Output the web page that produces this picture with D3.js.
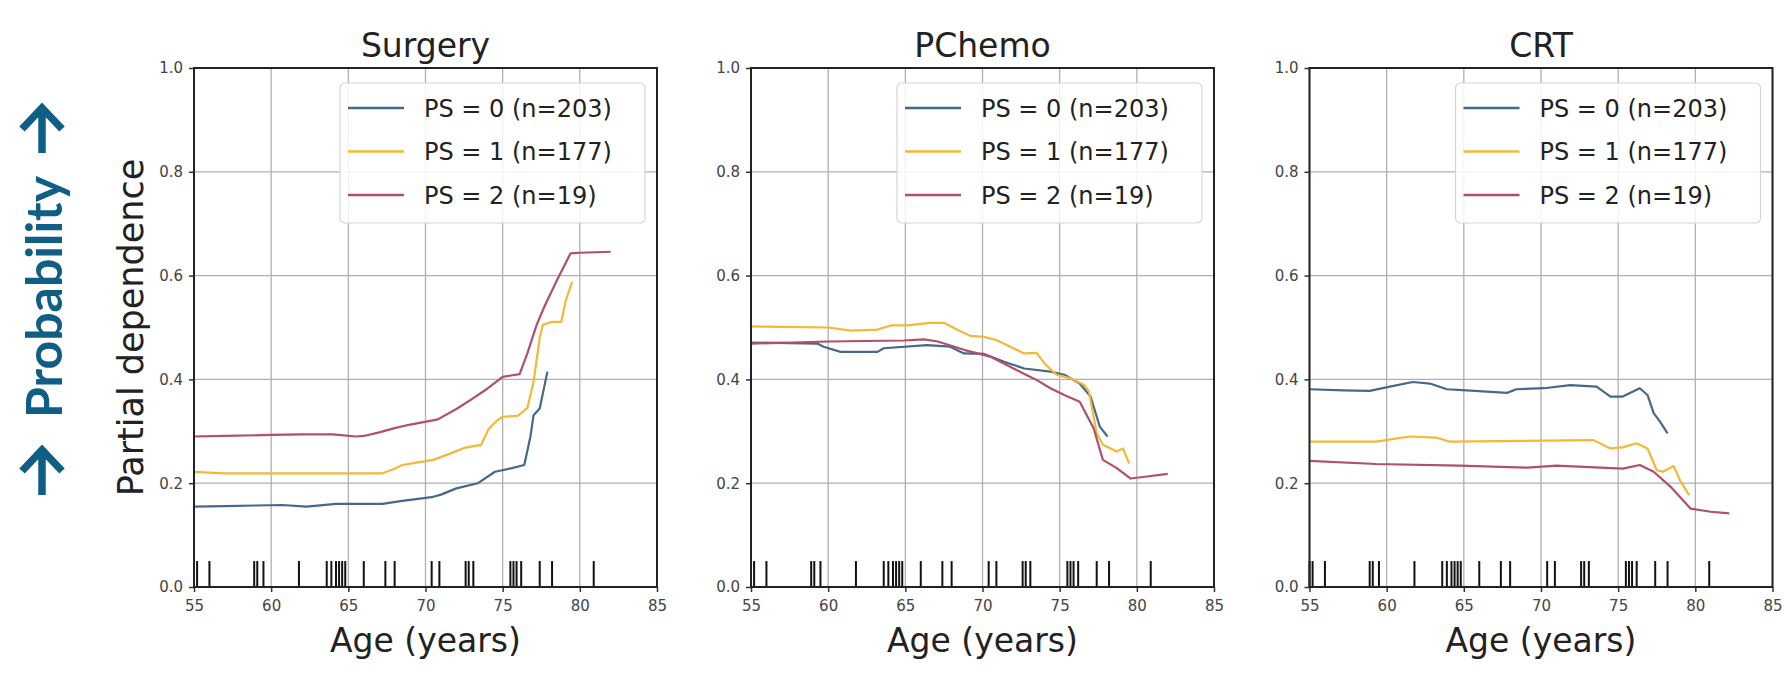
<!DOCTYPE html>
<html>
<head>
<meta charset="utf-8">
<script src="https://cdn.jsdelivr.net/npm/d3@7"></script>
<style>
  body { margin: 0; background: #fff; }
  svg { display: block; font-family: 'DejaVu Sans', sans-serif; }
</style>
</head>
<body>
<svg id="chart" width="1784" height="690"></svg>
<script>
const treatments = ['Surgery', 'PChemo', 'CRT'];
const groups = ['PS = 0 (n=203)', 'PS = 1 (n=177)', 'PS = 2 (n=19)'];
const ageTicks = [55, 60, 65, 70, 75, 80, 85];
const probTicks = [0, 0.2, 0.4, 0.6, 0.8, 1.0];

// ages of the individual patients (rug marks along the bottom)
const rugAges = [55.0, 55.2, 56.0, 58.9, 59.1, 59.5, 61.8, 63.6, 63.9, 64.2, 64.4, 64.6, 64.8,
    66.0, 67.4, 68.0, 70.4, 70.9, 72.6, 72.8, 73.1, 75.5, 75.7, 75.9, 76.2, 77.4, 78.2, 80.9];

// [age, partial dependence]
const surgeryPS0 = [[55, 0.155], [57, 0.156], [59, 0.157], [60.7, 0.158], [62.3, 0.155], [64.2, 0.160],
    [67.2, 0.160], [68.5, 0.166], [70.4, 0.173], [71.0, 0.178], [72, 0.190], [73.4, 0.200], [74.5, 0.222],
    [75.6, 0.229], [76.4, 0.235], [76.8, 0.290], [77.0, 0.331], [77.4, 0.344], [77.9, 0.415]];
const surgeryPS1 = [[55, 0.222], [57, 0.219], [60, 0.219], [63, 0.219], [65, 0.219], [67.2, 0.219],
    [68, 0.228], [68.5, 0.235], [69.5, 0.240], [70.5, 0.245], [71.5, 0.256], [72.5, 0.268], [73.6, 0.274],
    [74.1, 0.305], [74.6, 0.320], [75.0, 0.328], [76.0, 0.330], [76.6, 0.345], [77.0, 0.395], [77.4, 0.480],
    [77.6, 0.505], [78.2, 0.511], [78.8, 0.511], [79.1, 0.553], [79.5, 0.588]];
const surgeryPS2 = [[55, 0.290], [57, 0.291], [60, 0.293], [62, 0.294], [64, 0.294], [65.5, 0.290],
    [66, 0.291], [67, 0.298], [68, 0.306], [69, 0.313], [70.3, 0.320], [70.8, 0.323], [72, 0.343],
    [73, 0.362], [74, 0.382], [75, 0.405], [76.1, 0.410], [76.6, 0.450], [77.2, 0.505], [77.7, 0.540],
    [78.5, 0.590], [79.4, 0.643], [80, 0.644], [82, 0.646]];

const pchemoPS0 = [[55, 0.471], [59.3, 0.469], [59.7, 0.463], [60.8, 0.453], [63.2, 0.453], [63.6, 0.460],
    [66.4, 0.466], [67.9, 0.463], [68.8, 0.450], [70.1, 0.449], [71.4, 0.434], [72.7, 0.421], [74.4, 0.415],
    [75.3, 0.409], [76.3, 0.392], [77.0, 0.367], [77.6, 0.309], [78.1, 0.290]];
const pchemoPS1 = [[55, 0.502], [60, 0.500], [61.5, 0.494], [63.2, 0.496], [64.05, 0.504], [65.1, 0.504],
    [66.6, 0.509], [67.5, 0.509], [68.4, 0.495], [69.2, 0.484], [70.1, 0.482], [70.9, 0.476], [71.8, 0.463],
    [72.7, 0.450], [73.5, 0.451], [74.1, 0.428], [74.8, 0.409], [75.7, 0.402], [76.6, 0.389], [76.9, 0.376],
    [77.4, 0.296], [77.8, 0.274], [78.7, 0.261], [79.1, 0.267], [79.5, 0.238]];
const pchemoPS2 = [[55, 0.469], [60, 0.473], [64.9, 0.475], [66.2, 0.477], [67.1, 0.473], [68.8, 0.457],
    [70.5, 0.444], [72.2, 0.418], [73.5, 0.399], [74.4, 0.383], [75.3, 0.370], [76.3, 0.357], [77.2, 0.306],
    [77.8, 0.245], [78.7, 0.229], [79.6, 0.209], [80.4, 0.212], [82.0, 0.218]];

const crtPS0 = [[55, 0.381], [57.2, 0.379], [58.9, 0.378], [60.2, 0.386], [61.7, 0.395], [62.8, 0.392],
    [63.9, 0.381], [65.2, 0.379], [67.8, 0.374], [68.4, 0.381], [70.2, 0.383], [71.9, 0.389], [73.6, 0.386],
    [74.5, 0.367], [75.3, 0.367], [76.4, 0.383], [76.9, 0.370], [77.3, 0.335], [77.7, 0.319], [78.2, 0.296]];
const crtPS1 = [[55, 0.280], [59.3, 0.280], [61.5, 0.290], [63.2, 0.288], [64.1, 0.280], [70.2, 0.282],
    [73.4, 0.283], [74.5, 0.267], [75.3, 0.269], [76.2, 0.277], [76.9, 0.267], [77.5, 0.225], [77.9, 0.222],
    [78.6, 0.233], [79.0, 0.206], [79.6, 0.177]];
const crtPS2 = [[55, 0.243], [59.3, 0.237], [64.7, 0.234], [69.1, 0.230], [71.0, 0.234], [75.3, 0.228],
    [76.4, 0.235], [77.3, 0.222], [78.4, 0.193], [79.7, 0.151], [81.0, 0.145], [82.2, 0.142]];

const seriesByTreatment = [
    [surgeryPS0, surgeryPS1, surgeryPS2],
    [pchemoPS0, pchemoPS1, pchemoPS2],
    [crtPS0, crtPS1, crtPS2]
];

const colors = ['#46688a', '#f2b836', '#b0506a'];
const panelLeft = [194, 751, 1309.5];
const panelWidth = 463;
const plotTop = 68, plotBottom = 587;
const font = "'DejaVu Sans', sans-serif";

const svg = d3.select('#chart');
svg.append('rect').attr('width', 1784).attr('height', 690).attr('fill', '#fff');

const y = d3.scaleLinear().domain([0, 1]).range([plotBottom, plotTop]);

treatments.forEach((name, i) => {
    const x = d3.scaleLinear().domain([55, 85]).range([panelLeft[i], panelLeft[i] + panelWidth]);
    const g = svg.append('g');

    // grid
    g.append('g')
        .selectAll('line')
        .data(ageTicks)
        .join('line')
        .attr('x1', d => x(d)).attr('x2', d => x(d))
        .attr('y1', plotTop).attr('y2', plotBottom)
        .attr('stroke', '#b0b0b0').attr('stroke-width', 1.3);
    g.append('g')
        .selectAll('line')
        .data(probTicks)
        .join('line')
        .attr('x1', x(55)).attr('x2', x(85))
        .attr('y1', d => y(d)).attr('y2', d => y(d))
        .attr('stroke', '#b0b0b0').attr('stroke-width', 1.3);

    // rug marks
    g.append('g')
        .selectAll('line')
        .data(rugAges)
        .join('line')
        .attr('x1', d => x(d)).attr('x2', d => x(d))
        .attr('y1', y(0)).attr('y2', y(0.05))
        .attr('stroke', '#111').attr('stroke-width', 2);

    // curves
    const line = d3.line().x(d => x(d[0])).y(d => y(d[1]));
    g.append('g')
        .selectAll('path')
        .data(seriesByTreatment[i])
        .join('path')
        .attr('d', line)
        .attr('fill', 'none')
        .attr('stroke', (d, k) => colors[k])
        .attr('stroke-width', 2.2)
        .attr('stroke-linejoin', 'round');

    // axes
    const xAxis = g.append('g')
        .attr('transform', `translate(0,${plotBottom})`)
        .call(d3.axisBottom(x).tickValues(ageTicks).tickSize(5).tickPadding(8));
    const yAxis = g.append('g')
        .attr('transform', `translate(${x(55)},0)`)
        .call(d3.axisLeft(y).tickValues(probTicks).tickSize(5).tickPadding(6).tickFormat(d3.format('.1f')));
    [xAxis, yAxis].forEach(a => {
        a.select('.domain').remove();
        a.selectAll('text').attr('font-family', font).attr('font-size', 15).attr('fill', '#444');
        a.selectAll('line').attr('stroke', '#333').attr('stroke-width', 1.5);
    });

    // frame
    g.append('rect')
        .attr('x', x(55)).attr('y', plotTop)
        .attr('width', panelWidth).attr('height', plotBottom - plotTop)
        .attr('fill', 'none').attr('stroke', '#222').attr('stroke-width', 2);

    // legend
    const boxW = 305, boxH = 140;
    const lg = g.append('g').attr('transform', `translate(${x(85) - 12 - boxW},${plotTop + 15})`);
    lg.append('rect')
        .attr('width', boxW).attr('height', boxH).attr('rx', 5)
        .attr('fill', '#fff').attr('fill-opacity', 0.85)
        .attr('stroke', '#d6d6d6').attr('stroke-width', 1.2);
    const row = lg.selectAll('g.row')
        .data(groups)
        .join('g')
        .attr('class', 'row')
        .attr('transform', (d, k) => `translate(0,${25 + k * 43.5})`);
    row.append('line')
        .attr('x1', 8).attr('x2', 64)
        .attr('stroke', (d, k) => colors[k]).attr('stroke-width', 2.4);
    row.append('text')
        .attr('x', 84).attr('dy', '0.36em')
        .attr('font-family', font).attr('font-size', 24).attr('fill', '#222')
        .text(d => d);

    // titles
    g.append('text')
        .attr('x', x(70)).attr('y', 57)
        .attr('text-anchor', 'middle')
        .attr('font-family', font).attr('font-size', 33).attr('fill', '#222')
        .text(name);
    g.append('text')
        .attr('x', x(70)).attr('y', 652)
        .attr('text-anchor', 'middle')
        .attr('font-family', font).attr('font-size', 33).attr('fill', '#222')
        .text('Age (years)');
});

svg.append('text')
    .attr('transform', `translate(143,${(plotTop + plotBottom) / 2}) rotate(-90)`)
    .attr('text-anchor', 'middle')
    .attr('font-family', font).attr('font-size', 35).attr('fill', '#222')
    .text('Partial dependence');

// outer label: → Probability → (reads bottom to top)
const labelColor = '#0f5e86';
svg.append('text')
    .attr('transform', 'translate(62,297) rotate(-90)')
    .attr('text-anchor', 'middle')
    .attr('font-family', 'Lato, sans-serif').attr('font-size', 50).attr('font-weight', 'bold')
    .attr('fill', labelColor)
    .text('Probability');

// the two arrows, drawn as up-pointing glyphs (tip y, tail y)
const arrows = [[105, 153], [447, 495]];
svg.append('g')
    .selectAll('path')
    .data(arrows)
    .join('path')
    .attr('d', ([tip, tail]) => {
        const p = d3.path();
        const cx = 42;
        p.moveTo(cx, tail);
        p.lineTo(cx, tip + 3);
        p.moveTo(cx - 20, tip + 24);
        p.lineTo(cx, tip + 3);
        p.lineTo(cx + 20, tip + 24);
        return p.toString();
    })
    .attr('fill', 'none')
    .attr('stroke', labelColor)
    .attr('stroke-width', 7.5)
    .attr('stroke-linejoin', 'miter');
</script>
</body>
</html>
